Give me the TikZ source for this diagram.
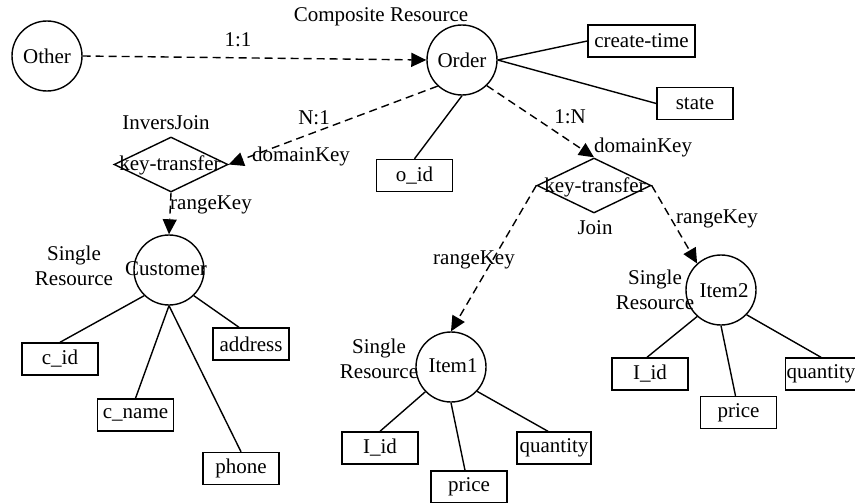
\documentclass[tikz,border=0pt]{standalone}
\usepackage{fontspec}
\setmainfont{Liberation Serif}
\usetikzlibrary{shapes.geometric,arrows.meta,calc}

\tikzset{
  ent/.style={circle, draw, line width=1.4pt, minimum size=70pt, inner sep=0pt},
  attr/.style={rectangle, draw, line width=1.4pt, minimum width=76pt, minimum height=32pt, inner sep=1pt},
  ktbox/.style={diamond, draw, line width=1.4pt, minimum width=114pt, minimum height=55pt, inner sep=0pt},
  txt/.style={inner sep=0pt},
  link/.style={line width=1.4pt},
  rel/.style={line width=1.4pt, dash pattern=on 8pt off 5pt, -{Triangle[length=15pt,width=14pt]}}
}

\begin{document}
\begin{tikzpicture}[x=1pt, y=-1pt, every node/.append style={font=\fontsize{21}{25}\selectfont}]
\useasboundingbox (0,0) rectangle (855,503);
\clip (0,0) rectangle (855,503);

% resources
\node[ent] (other) at (47,56) {};
\node[txt] (otherT) at (other.center) {Other};
\node[ent] (order) at (462,60) {};
\node[txt] (orderT) at (order.center) {Order};
\node[ent] (cust) at (169,270) {};
\node[txt] (custT) at (166,269) {Customer};
\node[ent] (item1) at (451,367) {};
\node[txt] (item1T) at (453,366) {Item1};
\node[ent] (item2) at (721,290) {};
\node[txt] (item2T) at (724,291) {Item2};

% key-transfer operators
\node[ktbox] (lkt) at (171,164.5) {};
\node[txt] (lktT) at (170,165) {key-transfer};
\node[ktbox] (rkt) at (594,185.5) {};
\node[txt] (rktT) at (595,187) {key-transfer};

% attributes
\node[attr, minimum width=107pt] (ct) at (641.5,41) {create-time};
\node[attr] (state) at (695,103.5) {state};
\node[attr] (oid) at (414.5,175.5) {o\_id};
\node[attr] (cid) at (60,359) {c\_id};
\node[attr] (cname) at (135.5,415) {c\_name};
\node[attr] (phone) at (241,468.5) {phone};
\node[attr] (addr) at (251,344) {address};
\node[attr] (iid1) at (380,448) {I\_id};
\node[attr] (price1) at (469,487) {price};
\node[attr, minimum width=74pt] (qty1) at (554,448) {quantity};
\node[attr] (iid2) at (650,374) {I\_id};
\node[attr] (price2) at (738.5,412.5) {price};
\node[attr, minimum width=60pt] (qty2) at (821,374) {quantity};

% captions
\node[txt] (compL) at (381,17) {Composite Resource};
\node[txt] (invL) at (166,123) {InversJoin};
\node[txt] (joinL) at (595,228) {Join};
\node[txt, align=center] (srC) at (74,266) {Single\\Resource};
\node[txt, align=center] (sr1) at (379,359) {Single\\Resource};
\node[txt, align=center] (sr2) at (655,290) {Single\\Resource};

% relationship labels
\node[txt] (l11) at (238,40) {1:1};
\node[txt] (ln1) at (314,118) {N:1};
\node[txt] (l1n) at (570,117) {1:N};
\node[txt] (dkL) at (301,156) {domainKey};
\node[txt] (dkR) at (643,147) {domainKey};
\node[txt] (rkL) at (211,205) {rangeKey};
\node[txt] (rkM) at (474,260) {rangeKey};
\node[txt] (rkR) at (717,219) {rangeKey};

% dashed relationships
\draw[rel] (other.east) -- (order.west);
\draw[rel] (order.227) -- (lkt.east);
\draw[rel] (order.-46) -- (rkt.north);
\draw[rel] (lkt.south) -- (cust.north);
\draw[rel] (rkt.west) -- (item1.north);
\draw[rel] (rkt.east) -- (item2.132);

% attribute links
\draw[link] (order.east) -- (ct.west);
\draw[link] (order.east) -- (state.west);
\draw[link] (order.south) -- (oid.north);

\draw[link] (cust.226) -- (cid.north);
\draw[link] (cust.south) -- (cname.north);
\draw[link] (cust.south) -- (phone.north);
\draw[link] (cust.-46) -- ([xshift=-12pt]addr.north);

\draw[link] (item1.224) -- (iid1.north);
\draw[link] (item1.south) -- ([xshift=-4pt]price1.north);
\draw[link] (item1.-43) -- ([xshift=-6pt]qty1.north);

\draw[link] (item2.228) -- ([xshift=-3pt]iid2.north);
\draw[link] (item2.south) -- ([xshift=-3pt]price2.north);
\draw[link] (item2.-44) -- (qty2.north);
\end{tikzpicture}
\end{document}
